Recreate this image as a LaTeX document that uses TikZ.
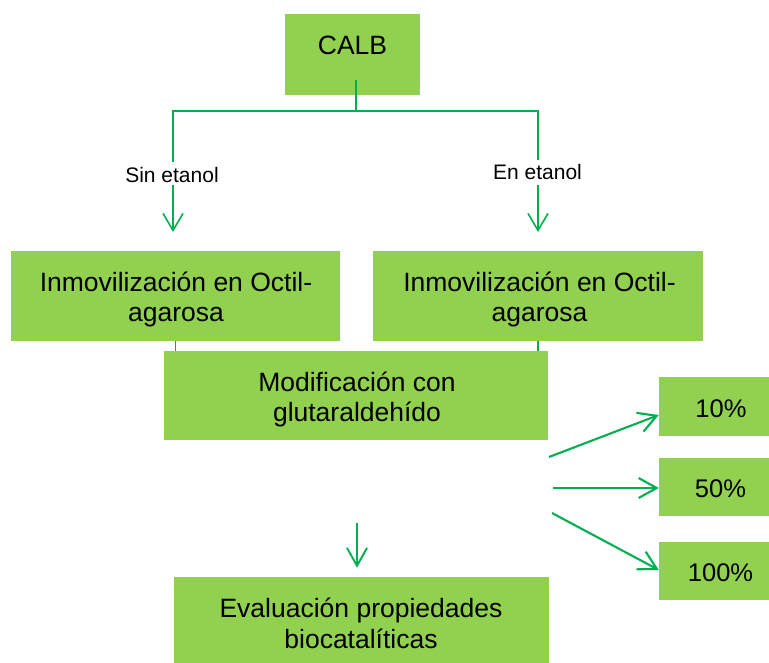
\documentclass[tikz,border=0pt]{standalone}
\usepackage{fontspec}
\setmainfont{Liberation Sans}
\usetikzlibrary{arrows.meta}
\definecolor{boxgreen}{HTML}{92D050}
\definecolor{linegreen}{HTML}{00B050}
\newcommand\twoln[2]{\vtop{\halign{\hfil##\hfil\cr #1\cr #2\cr}}}
\begin{document}
\begin{tikzpicture}[x=1pt,y=-1pt,
  box/.style={fill=boxgreen,draw=none,inner sep=0pt},
  txt/.style={font=\fontsize{26.5pt}{31pt}\selectfont,inner sep=0pt,anchor=base,text=black},
  pct/.style={font=\fontsize{25.5pt}{30pt}\selectfont,inner sep=0pt,anchor=base,text=black},
  small/.style={font=\fontsize{21pt}{25pt}\selectfont,fill=white,inner xsep=0pt,inner ysep=2pt,anchor=base,text=black},
  ln/.style={draw=linegreen,line width=1.6pt},
  tree/.style={draw=linegreen,line width=1.6pt,line join=miter,
    {Straight Barb[length=17pt,width=20pt]}-{Straight Barb[length=17pt,width=20pt]}},
  arrB/.style={draw=linegreen,line width=2.1pt,-{Straight Barb[length=18pt,width=20pt]}}]
\useasboundingbox (0,0) rectangle (769,663);

% boxes
\node[box,minimum width=135pt,minimum height=81pt] (calb) at (352.5,54.5) {};
\node[box,minimum width=329pt,minimum height=90pt] (inL) at (175.5,296) {};
\node[box,minimum width=330pt,minimum height=90pt] (inR) at (538,296) {};
\node[box,minimum width=384pt,minimum height=89pt] (mod) at (356,395.5) {};
\node[box,minimum width=110pt,minimum height=59pt] (p10) at (714,406.5) {};
\node[box,minimum width=110pt,minimum height=58pt] (p50) at (714,487) {};
\node[box,minimum width=110pt,minimum height=58pt] (p100) at (714,571) {};
\node[box,minimum width=375pt,minimum height=86pt] (eval) at (361.5,620) {};

% texts
\node[txt] (calbT) at (352.5,55) {CALB};
\node[txt] (inLT) at (176,291) {\twoln{Inmovilización en Octil-}{agarosa}};
\node[txt] (inRT) at (539.5,291) {\twoln{Inmovilización en Octil-}{agarosa}};
\node[txt] (modT) at (357,391) {\twoln{Modificación con}{glutaraldehído}};
\node[txt] (evalT) at (361,617) {\twoln{Evaluación propiedades}{biocatalíticas}};
\node[pct] (p10T) at (721,417) {10\%};
\node[pct] (p50T) at (720.5,497) {50\%};
\node[pct] (p100T) at (720.5,581) {100\%};

% tree from CALB
\coordinate (cT) at (356,80);
\coordinate (jn) at (356,111);
\coordinate (jL) at (173,111);
\coordinate (jR) at (538,111);
\coordinate (tipL) at (173,232);
\coordinate (tipR) at (538,232);
\draw[ln] (cT) -- (jn);
\draw[tree] (tipL) -- (jL) -- (jR) -- (tipR);
\node[small,text height=19pt,text depth=0pt] (sin) at (172,183) {Sin etanol};
\node[small,text height=18pt,text depth=3pt] (en) at (537.5,180) {En etanol};

% short links to modification box
\draw[ln] (inL.south) -- (inL.south |- mod.north);
\draw[ln] (inR.south) -- (inR.south |- mod.north);

% arrows to percentages
\coordinate (a1) at (549,457);
\coordinate (a2) at (553,488);
\coordinate (a3) at (552,513);
\draw[arrB] (a1) -- ([yshift=-8.5pt]p10.west);
\draw[arrB] (a2) -- ([yshift=-1pt]p50.west);
\draw[arrB] (a3) -- ([yshift=1pt]p100.west);

% down arrow
\coordinate (dA) at ([yshift=-83pt,xshift=1pt]mod.south);
\coordinate (dB) at ([yshift=9pt]eval.north);
\draw[arrB,line width=1.9pt] (dA) -- (dA |- dB);
\end{tikzpicture}
\end{document}
